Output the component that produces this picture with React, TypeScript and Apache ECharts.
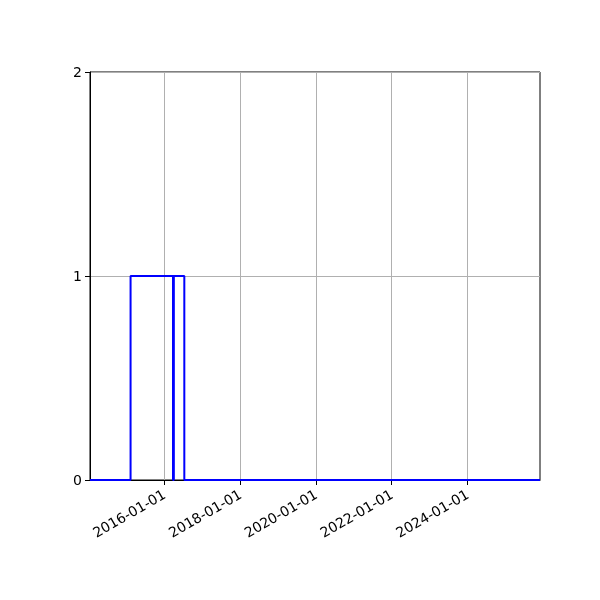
import React, { useEffect, useRef } from 'react';
import * as echarts from 'echarts';

// step points (value holds until the next date)
const stepDates = ['2014-01-15', '2015-02-10', '2016-03-25', '2016-04-02', '2016-07-12', '2025-11-30'];
const stepValues = [0, 1, 0, 1, 0, 0];

const xTickDates = ['2016-01-01', '2018-01-01', '2020-01-01', '2022-01-01', '2024-01-01'];
const yTicks = [0, 1, 2];

const toTs = (d: string) => {
  const [y, m, day] = d.split('-').map(Number);
  return Date.UTC(y, m - 1, day);
};

const fmt = (v: number) => {
  const d = new Date(v);
  const p = (n: number) => String(n).padStart(2, '0');
  return `${d.getUTCFullYear()}-${p(d.getUTCMonth() + 1)}-${p(d.getUTCDate())}`;
};

const App: React.FC = () => {
  const chartRef = useRef<HTMLDivElement>(null);

  useEffect(() => {
    const myChart = echarts.init(chartRef.current!, null, { renderer: 'svg' });
    const xTicks = xTickDates.map(toTs);

    const option = {
      animation: false,
      grid: {
        left: 90,
        right: 60,
        top: 72,
        bottom: 120,
        show: true,
        borderColor: '#000',
        borderWidth: 1,
        backgroundColor: 'transparent',
      },
      xAxis: {
        type: 'value',
        min: toTs(stepDates[0]),
        max: toTs(stepDates[stepDates.length - 1]),
        axisLine: { lineStyle: { color: '#000', width: 1 } },
        axisTick: { show: true, length: 5, customValues: xTicks, lineStyle: { color: '#000' } },
        axisLabel: {
          customValues: xTicks,
          rotate: 30,
          margin: 13,
          color: '#000',
          fontSize: 14,
          fontFamily: 'DejaVu Sans',
          formatter: (v: number) => fmt(v),
        },
        splitLine: { show: true, lineStyle: { color: '#b0b0b0', width: 1 } },
      },
      yAxis: {
        type: 'value',
        min: yTicks[0],
        max: yTicks[yTicks.length - 1],
        interval: 1,
        axisLine: { show: true, lineStyle: { color: '#000', width: 1 } },
        axisTick: { show: true, length: 5, lineStyle: { color: '#000' } },
        axisLabel: { color: '#000', fontSize: 14, fontFamily: 'DejaVu Sans', margin: 8 },
        splitLine: { show: true, lineStyle: { color: '#b0b0b0', width: 1 } },
      },
      series: [
        {
          type: 'line',
          step: 'end',
          showSymbol: false,
          data: stepDates.map((d, i) => [toTs(d), stepValues[i]]),
          lineStyle: { color: '#0000ff', width: 2 },
        },
      ],
    };

    myChart.setOption(option);

    return () => {
      myChart.dispose();
    };
  }, []);

  return <div ref={chartRef} style={{ position: 'fixed', left: 0, top: 0, width: '600px', height: '600px' }} />;
};

export default App;
